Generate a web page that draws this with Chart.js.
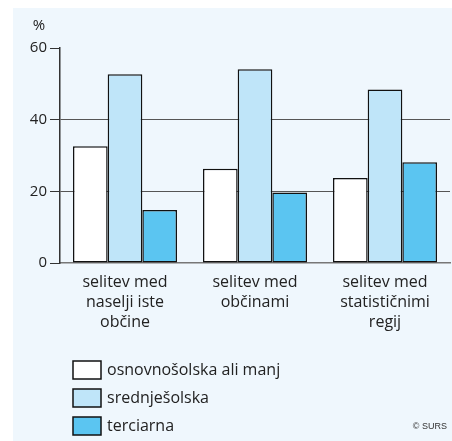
<!DOCTYPE html>
<html>
<head>
<meta charset="utf-8">
<script src="https://cdn.jsdelivr.net/npm/chart.js@4.4.1/dist/chart.umd.min.js"></script>
<style>
  html, body { margin: 0; padding: 0; background: #fff; }
  #wrap { width: 452px; height: 441px; }
</style>
</head>
<body>
<div id="wrap"><canvas id="eduChart" width="452" height="441"></canvas></div>
<script>
// categories and values
const categories = [
    ['selitev med', 'naselji iste', 'občine'],
    ['selitev med', 'občinami'],
    ['selitev med', 'statističnimi', 'regij']
];
const seriesNames = ['osnovnošolska ali manj', 'srednješolska', 'terciarna'];
const osnovnosolska = [32.6, 26.3, 23.7];
const srednjesolska = [52.7, 54.1, 48.4];
const terciarna = [14.8, 19.7, 28.1];
const yTicks = [0, 20, 40, 60];
const seriesColors = ['#ffffff', '#bfe5f9', '#5bc5f1'];

const FONT = '"Open Sans", "Noto Sans", sans-serif';

// light panel behind the chart, plus the % label, legend and source note
const panelPlugin = {
    id: 'panel',
    beforeDraw(chart) {
        const ctx = chart.ctx;
        ctx.save();
        ctx.fillStyle = '#eff7fd';
        ctx.fillRect(13, 8, 439, 433);
        ctx.restore();
    },
    afterDraw(chart) {
        const ctx = chart.ctx;
        ctx.save();
        ctx.fillStyle = '#222';
        ctx.font = '15px ' + FONT;
        ctx.textAlign = 'center';
        ctx.textBaseline = 'middle';
        ctx.fillText('%', 39, 26);

        ctx.font = '16px ' + FONT;
        ctx.textAlign = 'left';
        chart.data.datasets.forEach((ds, i) => {
            const y = 361 + i * 28;
            ctx.fillStyle = ds.backgroundColor;
            ctx.fillRect(73, y, 28, 18);
            ctx.lineWidth = 1.5;
            ctx.strokeStyle = '#111';
            ctx.strokeRect(73, y, 28, 18);
            ctx.fillStyle = '#222';
            ctx.fillText(ds.label, 107, y + 9);
        });

        ctx.font = '9px "Liberation Sans", Arial, sans-serif';
        ctx.textAlign = 'right';
        ctx.fillStyle = '#333';
        ctx.fillText('© SURS', 447, 427);
        ctx.restore();
    }
};

const seriesData = [osnovnosolska, srednjesolska, terciarna];

new Chart(document.getElementById('eduChart').getContext('2d'), {
    type: 'bar',
    data: {
        labels: categories,
        datasets: seriesData.map((values, i) => ({
            label: seriesNames[i],
            data: values,
            backgroundColor: seriesColors[i],
            borderColor: '#111',
            borderWidth: 1.5,
            borderSkipped: false,
            categoryPercentage: 0.8,
            barPercentage: 1.0
        }))
    },
    options: {
        responsive: false,
        animation: false,
        devicePixelRatio: 1,
        layout: {
            padding: { top: 48, right: 2, left: 0, bottom: 0 }
        },
        plugins: {
            legend: { display: false },
            tooltip: { enabled: false }
        },
        scales: {
            x: {
                grid: { display: false },
                border: { display: true, color: '#777', width: 1.5 },
                ticks: {
                    color: '#222',
                    font: { family: FONT, size: 16, lineHeight: 1.27 },
                    padding: 1,
                    maxRotation: 0,
                    autoSkip: false
                },
                afterFit(scale) { scale.height = 178; }
            },
            y: {
                min: 0,
                max: 60,
                afterBuildTicks(scale) {
                    scale.ticks = yTicks.map(v => ({ value: v }));
                },
                grid: {
                    color: ctx => (ctx.tick && ctx.tick.value > 0 && ctx.tick.value < 60) ? '#555' : 'rgba(0,0,0,0)',
                    tickColor: '#333',
                    tickLength: 10,
                    lineWidth: 1
                },
                border: { display: true, color: '#333', width: 1.5 },
                ticks: {
                    color: '#222',
                    font: { family: FONT, size: 15 },
                    padding: 3
                },
                afterFit(scale) { scale.width = 60; }
            }
        }
    },
    plugins: [panelPlugin]
});
</script>
</body>
</html>
